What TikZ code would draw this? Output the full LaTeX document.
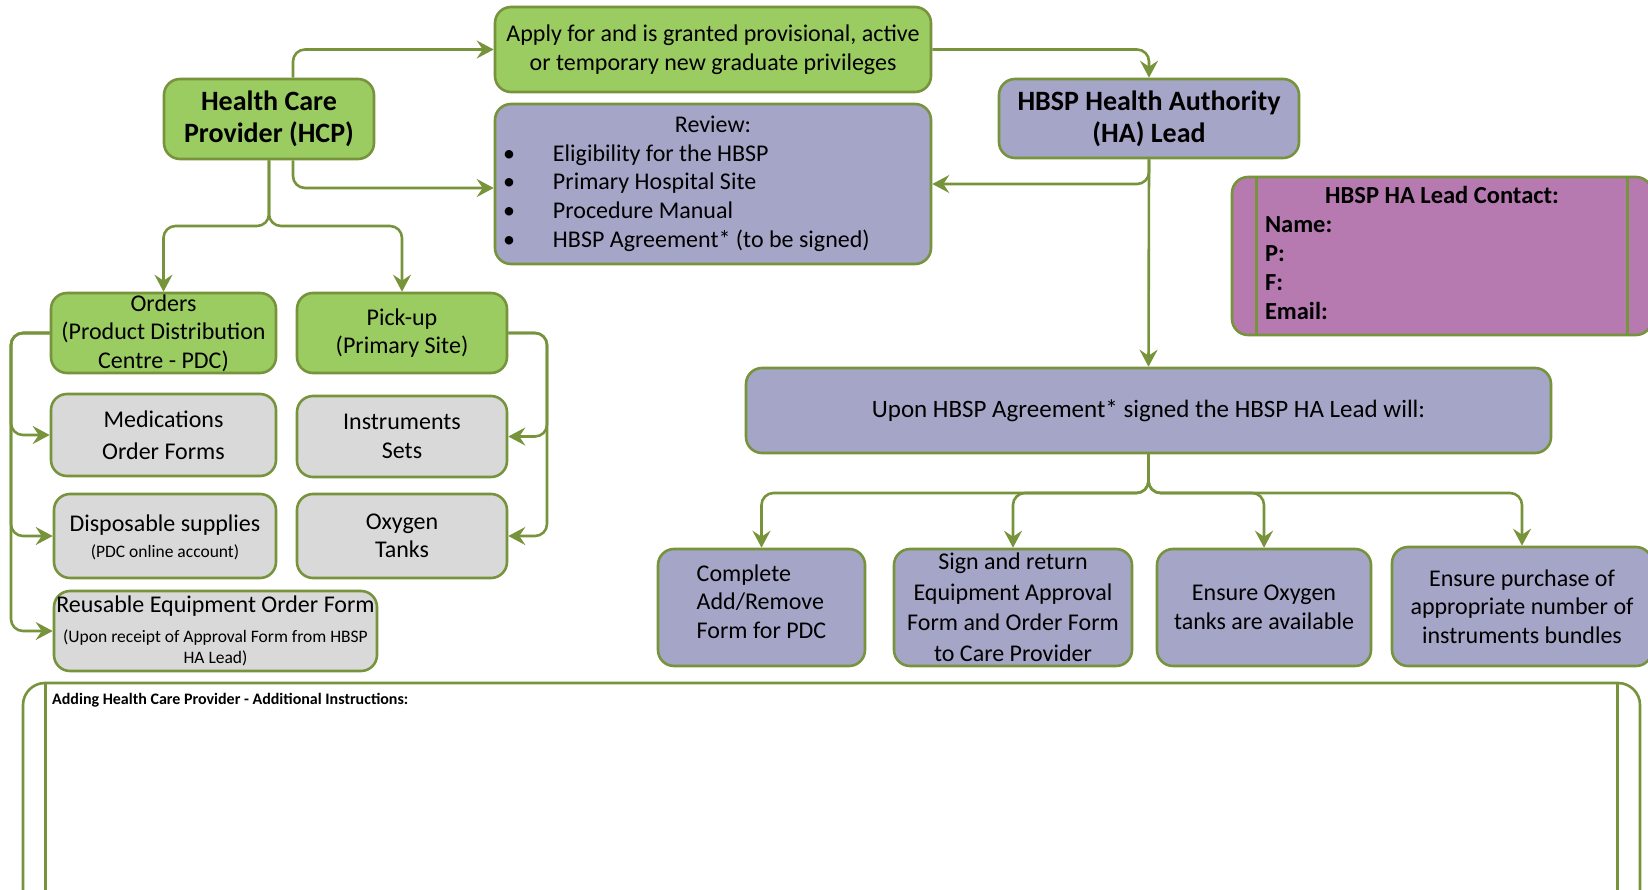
\documentclass[tikz,border=0pt]{standalone}
\usepackage{fontspec}
\setmainfont{Carlito}
\usepackage{tikz}
\usetikzlibrary{arrows.meta}

\definecolor{hcpgreen}{RGB}{155,204,98}
\definecolor{hclilac}{RGB}{165,165,199}
\definecolor{hcgrey}{RGB}{217,217,217}
\definecolor{hcmauve}{RGB}{182,121,176}
\definecolor{hcolive}{RGB}{119,147,60}

\newcommand{\smalltxt}{\fontsize{17.5}{21}\selectfont}

\tikzset{
  box/.style={draw=hcolive, line width=2.6pt, rounded corners=16pt, align=center,
    inner sep=0pt, font=\fontsize{24}{28.5}\selectfont},
  boxsize/.style 2 args={minimum width=#1, minimum height=#2},
  greenbox/.style={box, fill=hcpgreen},
  lilacbox/.style={box, fill=hclilac},
  greybox/.style={box, fill=hcgrey},
  headtxt/.style={font=\bfseries\fontsize{28}{32}\selectfont},
  flow/.style={draw=hcolive, line width=2.6pt, rounded corners=12pt,
    -{Stealth[length=17pt,width=18pt,inset=6pt]}},
  rule/.style={draw=hcolive, line width=2.6pt},
}

\begin{document}
\begin{tikzpicture}[x=1pt,y=-1pt]
\useasboundingbox (0,0) rectangle (1648,890);

% top row
\node[greenbox, headtxt, boxsize={210pt}{80pt}] (hcp) at (269,119) {Health Care\\Provider (HCP)};
\node[greenbox, boxsize={436pt}{85pt}] (apply) at (713,49.5) {Apply for and is granted provisional, active\\or temporary new graduate privileges};
\node[lilacbox, boxsize={436pt}{160pt}, font=\fontsize{24}{28.7}\selectfont] (review) at (713,184) {%
  \begin{tabular}{@{}p{50pt}@{}p{370pt}@{}}
  \multicolumn{2}{@{}c@{}}{Review:}\\
  \textbullet & Eligibility for the HBSP\\
  \textbullet & Primary Hospital Site\\
  \textbullet & Procedure Manual\\
  \textbullet & HBSP Agreement* (to be signed)
  \end{tabular}};
\node[lilacbox, headtxt, boxsize={300pt}{79pt}] (halead) at (1149,118.5) {HBSP Health Authority\\(HA) Lead};
\node[box, fill=hcmauve, boxsize={420pt}{158pt}, font=\bfseries\fontsize{24.5}{29}\selectfont] (contact) at (1442,256) {%
  \begin{tabular}{@{}p{354pt}@{}}
  \multicolumn{1}{@{}c@{}}{HBSP HA Lead Contact:}\\
  Name:\\ P:\\ F:\\ Email:
  \end{tabular}};
\draw[rule] ([xshift=26pt]contact.north west) -- ([xshift=26pt]contact.south west);
\draw[rule] ([xshift=-26pt]contact.north east) -- ([xshift=-26pt]contact.south east);

% left columns
\node[greenbox, boxsize={225pt}{80pt}] (orders) at (163.5,333) {Orders\\(Product Distribution\\Centre - PDC)};
\node[greenbox, boxsize={210pt}{80pt}] (pickup) at (402,333) {Pick-up\\(Primary Site)};
\node[greybox, boxsize={225pt}{82pt}] (meds) at (163.5,435) {Medications\\[3.5pt]Order Forms};
\node[greybox, boxsize={210pt}{81pt}] (instr) at (402,436.5) {Instruments\\Sets};
\node[greybox, boxsize={222pt}{84pt}, text depth=-6pt] (disp) at (165,536) {Disposable supplies\\[-2.5pt]{\smalltxt (PDC online account)}};
\node[greybox, boxsize={210pt}{84pt}] (oxy) at (402,536) {Oxygen\\Tanks};
\node[greybox, boxsize={323pt}{80pt}] (reuse) at (215.5,631) {Reusable Equipment Order Form\\[1pt]{\smalltxt (Upon receipt of Approval Form from HBSP}\\[-7pt]{\smalltxt HA Lead)}};

% right side
\node[lilacbox, boxsize={805pt}{85pt}, font=\fontsize{25}{30}\selectfont] (upon) at (1148.5,410.5) {Upon HBSP Agreement* signed the HBSP HA Lead will:};
\node[lilacbox, boxsize={207pt}{117pt}, align=left, text depth=12pt] (complete) at (761.5,607.5) {Complete\\Add/Remove\\Form for PDC};
\node[lilacbox, boxsize={238pt}{117pt}, font=\fontsize{24}{30.5}\selectfont] (signret) at (1013,607.5) {Sign and return\\Equipment Approval\\Form and Order Form\\to Care Provider};
\node[lilacbox, boxsize={214pt}{117pt}] (ensox) at (1264,607.5) {Ensure Oxygen\\tanks are available};
\node[lilacbox, boxsize={260pt}{119pt}] (ensbuy) at (1522,606.5) {Ensure purchase of\\appropriate number of\\instruments bundles};

% notes
\node[box, rounded corners=22pt, boxsize={1617pt}{240pt}] (notes) at (831.5,803) {};
\draw[rule] ([xshift=24pt]notes.north west) -- ([xshift=24pt]notes.south west);
\draw[rule] ([xshift=-24pt]notes.north east) -- ([xshift=-24pt]notes.south east);
\node[anchor=west, inner sep=0pt, font=\bfseries\fontsize{16}{19}\selectfont] (notelabel) at (52,700) {Adding Health Care Provider - Additional Instructions:};

% connectors
\coordinate (hcpfork) at (269,226);
\coordinate (ordtrunk) at (11,333);
\coordinate (pictrunk) at (547,333);
\coordinate (uponfork) at (1148.5,493);

\draw[flow] ([xshift=24pt]hcp.north) |- (apply.west);
\draw[flow] ([xshift=24pt]hcp.south) |- ([yshift=-4pt]review.west);
\draw[flow] (hcp.south) -- (hcpfork) -| (orders.north);
\draw[flow] (hcp.south) -- (hcpfork) -| (pickup.north);
\draw[flow] (apply.east) -| (halead.north);
\draw[flow] (halead.south) |- (review.east);
\draw[flow] (halead.south) -- (upon.north);
\foreach \t in {meds,disp,reuse}
  \draw[flow] (orders.west) -- (ordtrunk) |- (\t.west);
\foreach \t in {instr,oxy}
  \draw[flow] (pickup.east) -- (pictrunk) |- (\t.east);
\foreach \t in {complete,signret,ensox,ensbuy}
  \draw[flow] (upon.south) -- (uponfork) -| (\t.north);
\end{tikzpicture}
\end{document}
